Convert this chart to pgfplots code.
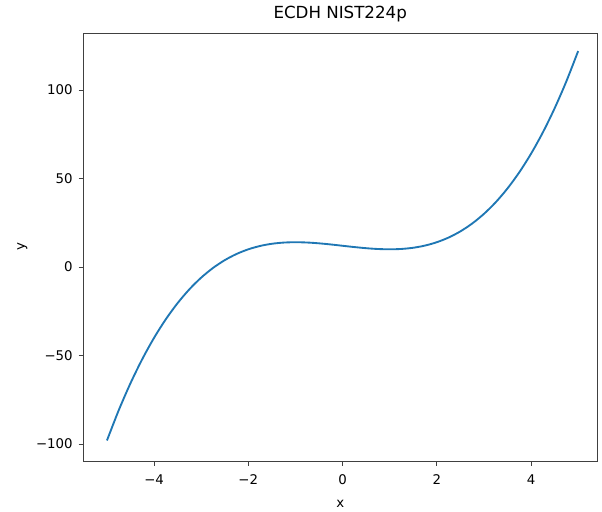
\documentclass[border=0pt]{standalone}
\usepackage{pgfplots}
\pgfplotsset{compat=1.18}
\usepackage{fontspec}
\setmainfont{DejaVu Sans}
\definecolor{mplblue}{HTML}{1F77B4}
\begin{document}
\begin{tikzpicture}
\useasboundingbox (-62.55pt,-37.5pt) rectangle (388.95pt,345.75pt);
\begin{axis}[
  scale only axis,
  width=385.2pt, height=321pt,
  at={(0,0)}, anchor=south west,
  xmin=-5.5, xmax=5.4, ymin=-109.6, ymax=132.2,
  xtick={-4,-2,0,2,4}, ytick={-100,-50,0,50,100},
  xticklabels={−4,−2,0,2,4},
  yticklabels={−100,−50,0,50,100},
  title={ECDH NIST224p},
  xlabel={x}, ylabel={y},
  tick align=outside,
  tick style={black!75, line width=0.6pt},
  xtick pos=bottom, ytick pos=left,
  major tick length=3.5pt,
  ticklabel style={font=\fontsize{10}{12}\selectfont},
  xticklabel style={yshift=-3pt},
  yticklabel style={xshift=-1pt},
  label style={font=\fontsize{10}{12}\selectfont},
  xlabel style={at={(axis description cs:0.5,0)}, anchor=base, yshift=-34.5pt},
  ylabel style={at={(axis description cs:0,0.5)}, anchor=center, yshift=45.75pt},
  title style={font=\fontsize{12.5}{15}\selectfont, at={(axis description cs:0.5,1)}, anchor=base, yshift=4.5pt},
  axis line style={black!75, line width=0.7pt},
]
\addplot[mplblue, line width=1.4pt, smooth] coordinates {
(-5,-98) (-4.75,-80.921875) (-4.5,-65.625) (-4.25,-52.015625) (-4,-40)
(-3.75,-29.484375) (-3.5,-20.375) (-3.25,-12.578125) (-3,-6)
(-2.75,-0.546875) (-2.5,3.875) (-2.25,7.359375) (-2,10)
(-1.75,11.890625) (-1.5,13.125) (-1.25,13.796875) (-1,14)
(-0.75,13.828125) (-0.5,13.375) (-0.25,12.734375) (0,12)
(0.25,11.265625) (0.5,10.625) (0.75,10.171875) (1,10)
(1.25,10.203125) (1.5,10.875) (1.75,12.109375) (2,14)
(2.25,16.640625) (2.5,20.125) (2.75,24.546875) (3,30)
(3.25,36.578125) (3.5,44.375) (3.75,53.484375) (4,64)
(4.25,76.015625) (4.5,89.625) (4.75,104.921875) (5,122)
};
\end{axis}
\end{tikzpicture}
\end{document}
